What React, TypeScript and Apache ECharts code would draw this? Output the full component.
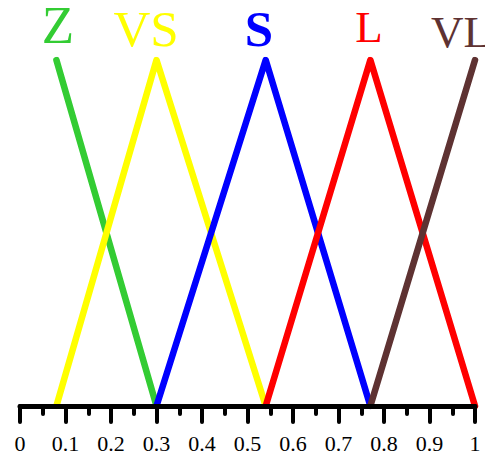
import React, { useEffect, useRef } from "react";
import * as echarts from "echarts";

const setNames = ["Z", "VS", "S", "L", "VL"];
const setColors = ["#33CC33", "#FFFF00", "#0000FF", "#FF0000", "#5E3232"];
const zPoints = [[0.08, 1], [0.3, 0]];
const vsPoints = [[0.08, 0], [0.3, 1], [0.54, 0]];
const sPoints = [[0.3, 0], [0.54, 1], [0.77, 0]];
const lPoints = [[0.54, 0], [0.77, 1], [1, 0]];
const vlPoints = [[0.77, 0], [1, 1]];
const peakX = [0.08, 0.3, 0.54, 0.77, 1];
const labelSizes = [53, 51, 51, 45, 45];
const labelWeights = ["normal", "normal", "bold", "normal", "normal"];
const labelOffsets = [[1.6, -35], [-10.5, -31], [-6.7, -31], [-1.4, -33], [-14, -28]];

export default function App() {
  const ref = useRef<HTMLDivElement>(null);
  useEffect(() => {
    if (!ref.current) return;
    const chart = echarts.init(ref.current, undefined, { renderer: "svg" });
    const lineData = [zPoints, vsPoints, sPoints, lPoints, vlPoints];
    const series: any[] = lineData.map((pts, i) => ({
      type: "line",
      name: setNames[i],
      data: pts,
      symbol: "none",
      z: 2 + i * 0.01,
      lineStyle: { color: setColors[i], width: 6.5, cap: "round", join: "round" },
    }));
    series.push({
      type: "scatter",
      symbolSize: 0,
      z: 5,
      silent: true,
      itemStyle: { opacity: 1 },
      data: peakX.map((x, i) => ({
        value: [x, 1],
        label: {
          show: true,
          formatter: setNames[i],
          position: "inside",
          offset: labelOffsets[i],
          color: setColors[i],
          opacity: 1,
          textBorderWidth: 0,
          textBorderColor: "transparent",
          fontSize: labelSizes[i],
          lineHeight: 38,
          fontWeight: labelWeights[i],
          fontFamily: "Liberation Serif",
        },
      })),
    });
    chart.setOption({
      animation: false,
      grid: { left: 20, right: 10, top: 60, bottom: 49, containLabel: false },
      xAxis: {
        type: "value",
        min: 0,
        max: 1,
        interval: 0.1,
        z: 10,
        splitLine: { show: false },
        axisLine: { show: true, onZero: false, lineStyle: { color: "#000", width: 5, cap: "round" } },
        axisTick: { show: true, length: 16, lineStyle: { color: "#000", width: 4, cap: "round" } },
        minorTick: { show: true, splitNumber: 2, length: 8, lineStyle: { color: "#000", width: 4, cap: "round" } },
        axisLabel: {
          show: true,
          margin: 26,
          hideOverlap: false,
          formatter: (v: number) => `{t|${Math.round(v * 10) / 10}}`,
          rich: {
            t: { color: "#000", fontSize: 22, lineHeight: 22, fontFamily: "Liberation Serif" },
          },
        },
      },
      yAxis: { type: "value", min: 0, max: 1, show: false },
      series,
    });
    return () => chart.dispose();
  }, []);
  return <div ref={ref} style={{ position: "absolute", left: 0, top: 0, width: 485, height: 455 }} />;
}
